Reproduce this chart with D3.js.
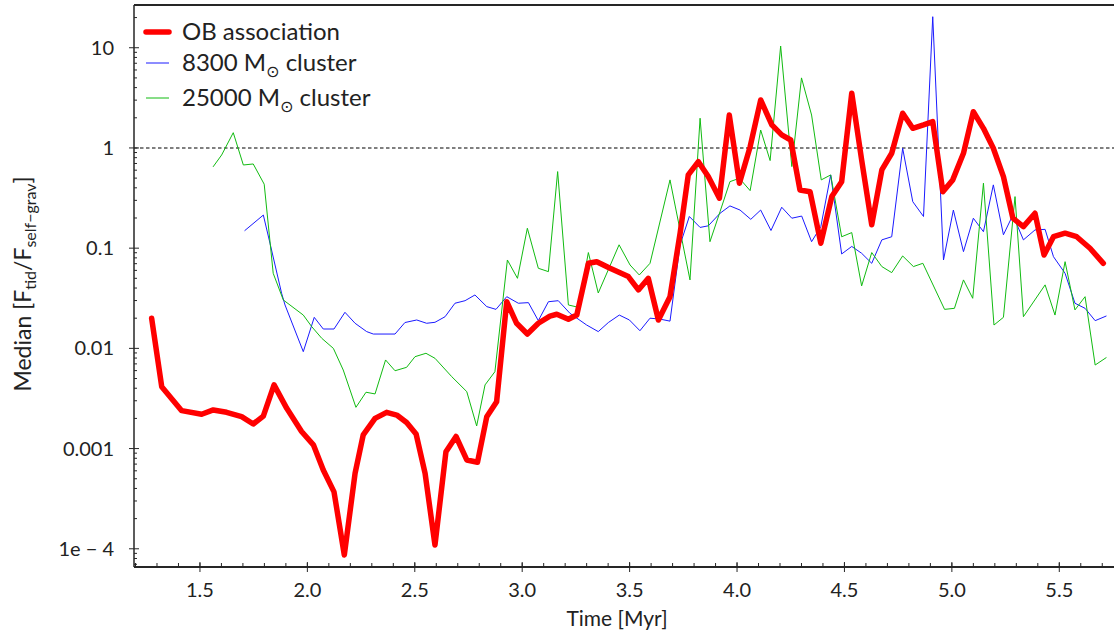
<!DOCTYPE html>
<html>
<head>
<meta charset="utf-8">
<script src="https://cdn.jsdelivr.net/npm/d3@7"></script>
<style>
  html, body { margin: 0; padding: 0; background: #fff; }
  svg text { font-family: Lato, "DejaVu Sans", sans-serif; fill: #222; }
</style>
</head>
<body>
<svg id="chart" width="1114" height="639"></svg>
<script>
// Median tidal-to-self-gravity force ratio over time
const obTime = [1.275,1.322,1.415,1.508,1.562,1.624,1.694,1.748,1.795,1.845,1.904,1.973,2.028,2.074,2.124,2.172,2.222,2.260,2.315,2.369,2.416,2.462,2.506,2.548,2.594,2.645,2.692,2.742,2.792,2.835,2.881,2.928,2.974,3.024,3.075,3.129,3.161,3.215,3.254,3.308,3.347,3.409,3.494,3.541,3.587,3.634,3.688,3.735,3.773,3.820,3.866,3.918,3.964,4.011,4.061,4.110,4.162,4.208,4.250,4.293,4.340,4.390,4.441,4.487,4.534,4.580,4.627,4.674,4.720,4.771,4.818,4.868,4.911,4.958,5.004,5.054,5.100,5.147,5.193,5.240,5.284,5.333,5.387,5.429,5.473,5.527,5.581,5.643,5.705];
const obValue = [0.020,0.00415,0.00239,0.00220,0.00243,0.00230,0.00208,0.00176,0.00211,0.00432,0.00252,0.00148,0.00109,0.00061,0.00037,0.0000867,0.000566,0.00137,0.00200,0.00230,0.00216,0.00182,0.00140,0.000566,0.000109,0.00093,0.00132,0.00077,0.00073,0.00208,0.00294,0.0292,0.0178,0.0139,0.0178,0.0210,0.0219,0.0195,0.0215,0.0706,0.0733,0.0630,0.0520,0.0383,0.0500,0.0192,0.0328,0.141,0.538,0.730,0.518,0.315,2.13,0.445,1.03,3.01,1.70,1.35,1.20,0.381,0.366,0.112,0.327,0.461,3.52,0.759,0.171,0.603,0.885,2.22,1.57,1.70,1.83,0.366,0.480,0.885,2.30,1.57,0.993,0.518,0.199,0.164,0.223,0.0855,0.130,0.141,0.130,0.0998,0.0706];

const c8300Time = [1.709,1.795,1.826,1.880,1.896,1.981,2.032,2.074,2.124,2.175,2.222,2.276,2.307,2.408,2.454,2.509,2.555,2.594,2.641,2.687,2.734,2.780,2.835,2.878,2.928,2.982,3.029,3.075,3.122,3.168,3.222,3.300,3.354,3.401,3.452,3.499,3.548,3.595,3.641,3.688,3.735,3.778,3.828,3.866,3.921,3.967,4.014,4.064,4.110,4.158,4.208,4.255,4.301,4.347,4.390,4.436,4.487,4.534,4.580,4.627,4.674,4.720,4.771,4.818,4.868,4.911,4.961,5.007,5.054,5.100,5.147,5.193,5.240,5.284,5.333,5.387,5.434,5.473,5.527,5.573,5.620,5.667,5.718];
const c8300Value = [0.150,0.214,0.112,0.0355,0.0271,0.00927,0.0204,0.0156,0.0156,0.0229,0.0178,0.0147,0.0139,0.0139,0.0181,0.0192,0.0178,0.0182,0.0207,0.0282,0.0299,0.0341,0.0261,0.0245,0.0328,0.0282,0.0286,0.0189,0.0292,0.0299,0.0224,0.0171,0.0147,0.0181,0.0215,0.0192,0.0150,0.0200,0.0196,0.0187,0.108,0.207,0.161,0.167,0.223,0.264,0.240,0.194,0.240,0.150,0.256,0.199,0.209,0.116,0.164,0.538,0.0875,0.104,0.0889,0.0706,0.121,0.130,0.993,0.291,0.207,20.4,0.0762,0.240,0.0923,0.199,0.146,0.428,0.136,0.214,0.121,0.152,0.154,0.0822,0.0561,0.0282,0.0251,0.0189,0.0210];

const c25000Time = [1.562,1.601,1.655,1.702,1.748,1.799,1.841,1.888,1.981,2.020,2.067,2.121,2.167,2.226,2.273,2.315,2.364,2.408,2.462,2.501,2.552,2.594,2.672,2.742,2.788,2.827,2.873,2.931,2.978,3.024,3.075,3.122,3.165,3.215,3.261,3.308,3.354,3.451,3.502,3.545,3.595,3.688,3.781,3.828,3.874,3.921,3.967,4.011,4.061,4.110,4.154,4.203,4.255,4.300,4.347,4.392,4.436,4.487,4.534,4.580,4.627,4.674,4.720,4.771,4.821,4.865,4.966,5.012,5.054,5.097,5.147,5.196,5.240,5.294,5.333,5.434,5.480,5.527,5.573,5.620,5.667,5.718];
const c25000Value = [0.652,0.851,1.42,0.676,0.692,0.435,0.0561,0.0304,0.0215,0.0165,0.0126,0.0100,0.00608,0.00258,0.00365,0.00351,0.00766,0.00598,0.00647,0.00826,0.00893,0.00796,0.00522,0.00370,0.00168,0.00432,0.00585,0.0762,0.0500,0.158,0.0630,0.0583,0.581,0.0271,0.0257,0.0904,0.0357,0.108,0.0679,0.0540,0.0706,0.480,0.0482,1.98,0.116,0.232,0.461,0.498,0.375,1.51,0.748,10.4,0.652,5.0,2.13,0.480,0.538,0.130,0.143,0.0420,0.0904,0.0655,0.0570,0.0836,0.0655,0.0706,0.0245,0.0251,0.0482,0.0316,0.445,0.0171,0.0204,0.327,0.0207,0.0430,0.0215,0.0733,0.0242,0.0328,0.00682,0.00807];

const xTickValues = [1.5, 2.0, 2.5, 3.0, 3.5, 4.0, 4.5, 5.0, 5.5];
const yTickValues = [10, 1, 0.1, 0.01, 0.001, 0.0001];
const yTickLabels = ["10", "1", "0.1", "0.01", "0.001", "1e \u2212 4"];
const thresholdValue = 1;

const series = [
  { name: "OB association", time: obTime, value: obValue, color: "#ff0000", width: 5.5, mass: null },
  { name: "8300", time: c8300Time, value: c8300Value, color: "#1a1aff", width: 1, mass: "8300" },
  { name: "25000", time: c25000Time, value: c25000Value, color: "#11bb11", width: 1, mass: "25000" }
];

(function draw() {
  const svg = d3.select("#chart");
  const pLeft = 134, pTop = 5, pBottom = 567, pRight = 1116;

  const x = d3.scaleLinear().domain([1.193, 5.764]).range([pLeft, pRight]);
  const y = d3.scaleLog().domain([6.58e-5, 26.7]).range([pBottom, pTop]);

  svg.append("defs").append("clipPath").attr("id", "plot-clip")
    .append("rect").attr("x", pLeft).attr("y", pTop)
    .attr("width", pRight - pLeft).attr("height", pBottom - pTop);

  // threshold where tidal force equals self-gravity
  svg.append("line")
    .attr("x1", pLeft).attr("x2", pRight)
    .attr("y1", y(thresholdValue)).attr("y2", y(thresholdValue))
    .attr("stroke", "#000").attr("stroke-width", 1.1)
    .attr("stroke-dasharray", "3.5,2.5");

  // series lines, thin clusters first, then the thick association curve on top
  const plot = svg.append("g").attr("clip-path", "url(#plot-clip)");
  const line = d3.line().x(d => x(d[0])).y(d => y(d[1]));
  [series[1], series[2], series[0]].forEach(s => {
    const pts = s.time.map((t, i) => [t, s.value[i]]);
    plot.append("path")
      .datum(pts)
      .attr("d", line)
      .attr("fill", "none")
      .attr("stroke", s.color)
      .attr("stroke-width", s.width)
      .attr("stroke-linejoin", "round")
      .attr("stroke-linecap", "round");
  });

  // axes frame
  const axisColor = "#262626";
  svg.append("line").attr("x1", pLeft).attr("x2", pRight).attr("y1", pTop).attr("y2", pTop)
    .attr("stroke", axisColor).attr("stroke-width", 2);
  svg.append("line").attr("x1", pLeft).attr("x2", pRight).attr("y1", pBottom).attr("y2", pBottom)
    .attr("stroke", axisColor).attr("stroke-width", 2);
  svg.append("line").attr("x1", pLeft).attr("x2", pLeft).attr("y1", pTop).attr("y2", pBottom)
    .attr("stroke", axisColor).attr("stroke-width", 1.5);

  // x ticks: major every 0.5 Myr, minor every 0.1 Myr
  const xMinor = d3.range(12, 58).map(i => i / 10).filter(v => x(v) > pLeft + 1 && x(v) < pRight);
  const xAxisG = svg.append("g");
  xAxisG.selectAll("line.minor").data(xMinor).join("line")
    .attr("x1", d => x(d)).attr("x2", d => x(d))
    .attr("y1", pBottom).attr("y2", pBottom - 4)
    .attr("stroke", axisColor).attr("stroke-width", 1);
  xAxisG.selectAll("line.major").data(xTickValues).join("line")
    .attr("x1", d => x(d)).attr("x2", d => x(d))
    .attr("y1", pBottom - 5).attr("y2", pBottom + 5)
    .attr("stroke", axisColor).attr("stroke-width", 1);
  xAxisG.selectAll("text").data(xTickValues).join("text")
    .attr("x", d => x(d)).attr("y", 597)
    .attr("text-anchor", "middle")
    .attr("font-size", 20)
    .text(d => d.toFixed(1));

  // y ticks: decades with log minor ticks
  const yMinor = [];
  for (let e = -5; e <= 1; e++) {
    for (let m = 2; m <= 9; m++) {
      const v = m * Math.pow(10, e);
      if (y(v) > pTop + 1 && y(v) < pBottom - 1) yMinor.push(v);
    }
  }
  const yAxisG = svg.append("g");
  yAxisG.selectAll("line.minor").data(yMinor).join("line")
    .attr("x1", pLeft).attr("x2", pLeft + 3)
    .attr("y1", d => y(d)).attr("y2", d => y(d))
    .attr("stroke", axisColor).attr("stroke-width", 1);
  yAxisG.selectAll("line.major").data(yTickValues).join("line")
    .attr("x1", pLeft - 5).attr("x2", pLeft + 5)
    .attr("y1", d => y(d)).attr("y2", d => y(d))
    .attr("stroke", axisColor).attr("stroke-width", 1);
  yAxisG.selectAll("text").data(yTickValues).join("text")
    .attr("x", 114).attr("y", d => y(d) + 7)
    .attr("text-anchor", "end")
    .attr("font-size", 20)
    .text((d, i) => yTickLabels[i]);

  // axis titles
  svg.append("text")
    .attr("x", 617).attr("y", 626)
    .attr("text-anchor", "middle")
    .attr("font-size", 21)
    .text("Time [Myr]");

  const yTitle = svg.append("text")
    .attr("transform", "translate(31,284) rotate(-90)")
    .attr("text-anchor", "middle")
    .attr("font-size", 23);
  yTitle.append("tspan").text("Median [F");
  yTitle.append("tspan").attr("font-size", 16).attr("dy", 5).text("tid");
  yTitle.append("tspan").attr("dy", -5).text("/F");
  yTitle.append("tspan").attr("font-size", 16).attr("dy", 5).text("self\u2212grav");
  yTitle.append("tspan").attr("dy", -5).text("]");

  // legend
  const legendRows = [32, 63, 98];
  const legend = svg.append("g");
  series.forEach((s, i) => {
    const ly = legendRows[i];
    legend.append("line")
      .attr("x1", 146).attr("x2", 169).attr("y1", ly).attr("y2", ly)
      .attr("stroke", s.color).attr("stroke-width", s.width)
      .attr("stroke-linecap", s.width > 2 ? "round" : "butt");
    const t = legend.append("text")
      .attr("x", 182).attr("y", ly + 8)
      .attr("font-size", 24);
    if (s.mass === null) {
      t.text(s.name);
    } else {
      t.append("tspan").text(s.mass + " M");
      t.append("tspan").attr("font-size", 16).attr("dy", 6).text("\u2299");
      t.append("tspan").attr("dy", -6).text(" cluster");
    }
  });
})();
</script>
</body>
</html>
